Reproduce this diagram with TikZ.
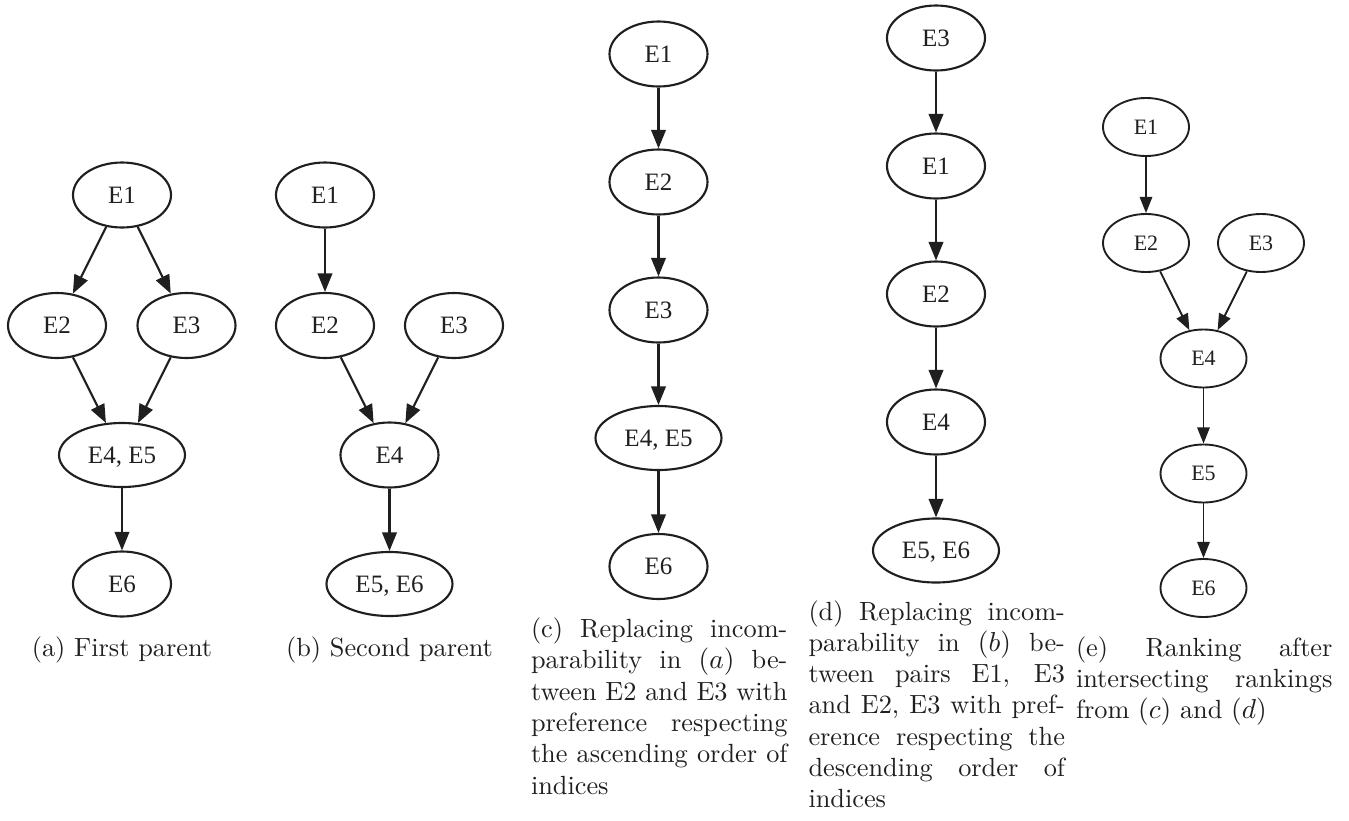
\documentclass[tikz,border=0pt]{standalone}
\usepackage{fontspec}
\newfontfamily\gvfont{Liberation Serif}
\usetikzlibrary{arrows.meta,shapes.geometric}
\definecolor{ink}{gray}{0.12}
\begin{document}
\begin{tikzpicture}[x=0.4pt,y=-0.4pt,
  gvnode/.style={ellipse, draw=ink, text=ink, line width=0.85pt, inner sep=0pt, text depth=0pt,
    minimum width=39.2pt, minimum height=26pt, font=\gvfont\fontsize{10}{11}\selectfont},
  gvwide/.style={gvnode, minimum width=50.4pt, minimum height=25.6pt},
  gvsmall/.style={ellipse, draw=ink, text=ink, line width=0.75pt, inner sep=0pt, text depth=0pt,
    minimum width=34.4pt, minimum height=23.2pt, font=\gvfont\fontsize{8.8}{10}\selectfont},
  gvedge/.style={draw=ink, -{Triangle[length=7.4pt,width=5.8pt]}, line width=0.85pt},
  gvedgesmall/.style={draw=ink, -{Triangle[length=6.5pt,width=5pt]}, line width=0.75pt},
  captext/.style={anchor=base, inner sep=0pt, text=ink, font=\fontsize{10.52}{12.52}\selectfont},
  capbox/.style={anchor=base west, inner sep=0pt, text=ink, font=\fontsize{10.52}{12.52}\selectfont}]
\useasboundingbox (0,0) rectangle (1349,821);

% (a)
\node[gvnode] (a1) at (122,195) {E1};
\node[gvnode] (a2) at (57,325.5) {E2};
\node[gvnode] (a3) at (186.5,325.5) {E3};
\node[gvwide] (a45) at (122,455) {E4, E5};
\node[gvnode] (a6) at (122,584) {E6};
\draw[gvedge] (a1) -- (a2);
\draw[gvedge] (a1) -- (a3);
\draw[gvedge] (a2) -- (a45);
\draw[gvedge] (a3) -- (a45);
\draw[gvedge] (a45) -- (a6);
\node[captext] (capa) at (122,656) {(a) First parent};

% (b)
\node[gvnode] (b1) at (325,195) {E1};
\node[gvnode] (b2) at (325,325.5) {E2};
\node[gvnode] (b3) at (454,325.5) {E3};
\node[gvnode] (b4) at (389.5,455) {E4};
\node[gvwide] (b56) at (389.5,584) {E5, E6};
\draw[gvedge] (b1) -- (b2);
\draw[gvedge] (b2) -- (b4);
\draw[gvedge] (b3) -- (b4);
\draw[gvedge] (b4) -- (b56);
\node[captext] (capb) at (389.5,656) {(b) Second parent};

% (c)
\node[gvnode] (c1) at (658.5,54) {E1};
\node[gvnode] (c2) at (658.5,182) {E2};
\node[gvnode] (c3) at (658.5,310) {E3};
\node[gvwide] (c45) at (658.5,438) {E4, E5};
\node[gvnode] (c6) at (658.5,566.5) {E6};
\draw[gvedge] (c1) -- (c2);
\draw[gvedge] (c2) -- (c3);
\draw[gvedge] (c3) -- (c45);
\draw[gvedge] (c45) -- (c6);
\node[capbox] (capc) at (530.5,637.5) {\parbox[t]{102.6pt}{(c) Replacing incom-\linebreak parability in $(a)$ be-\linebreak tween E2 and E3 with\linebreak preference respecting\linebreak the ascending order of\linebreak indices}};

% (d)
\node[gvnode] (d3) at (936,38) {E3};
\node[gvnode] (d1) at (936,166) {E1};
\node[gvnode] (d2) at (936,294) {E2};
\node[gvnode] (d4) at (936,422) {E4};
\node[gvwide] (d56) at (936,550.5) {E5, E6};
\draw[gvedge] (d3) -- (d1);
\draw[gvedge] (d1) -- (d2);
\draw[gvedge] (d2) -- (d4);
\draw[gvedge] (d4) -- (d56);
\node[capbox] (capd) at (808,620) {\parbox[t]{102.6pt}{(d) Replacing incom-\linebreak parability in $(b)$ be-\linebreak tween pairs E1, E3\linebreak and E2, E3 with pref-\linebreak erence respecting the\linebreak descending order of\linebreak indices}};

% (e)
\node[gvsmall] (e1) at (1146,127) {E1};
\node[gvsmall] (e2) at (1146,243) {E2};
\node[gvsmall] (e3) at (1261,243) {E3};
\node[gvsmall] (e4) at (1203.5,358.5) {E4};
\node[gvsmall] (e5) at (1203.5,473.5) {E5};
\node[gvsmall] (e6) at (1203.5,588) {E6};
\draw[gvedgesmall] (e1) -- (e2);
\draw[gvedgesmall] (e2) -- (e4);
\draw[gvedgesmall] (e3) -- (e4);
\draw[gvedgesmall] (e4) -- (e5);
\draw[gvedgesmall] (e5) -- (e6);
\node[capbox] (cape) at (1075.5,656) {\parbox[t]{102.6pt}{(e) Ranking after\linebreak intersecting rankings\linebreak from $(c)$ and $(d)$}};
\end{tikzpicture}
\end{document}
